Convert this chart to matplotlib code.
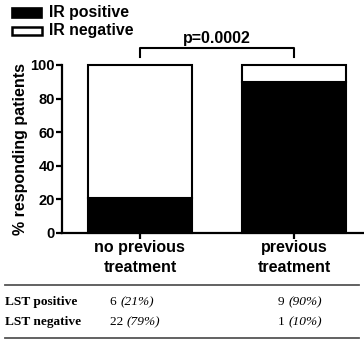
import matplotlib.pyplot as plt

groups = ['no previous\ntreatment', 'previous\ntreatment']
ir_positive = [21, 90]
ir_negative = [79, 10]
p_label = 'p=0.0002'
table_rows = ['LST positive', 'LST negative']
table_counts = [[6, 9], [22, 1]]
table_pcts = [['21%', '90%'], ['79%', '10%']]

W, H = 364, 340
fig = plt.figure(figsize=(W / 100, H / 100), dpi=100)
plt.rcParams['font.family'] = 'Liberation Sans'

def fx(px):
    return px / W

def fy(py):
    return 1 - py / H

ax = fig.add_axes([fx(62), fy(233), fx(364) - fx(62), fy(65) - fy(233)])
x = [0, 1]
ax.bar(x, ir_positive, width=0.67, color='black', edgecolor='black', linewidth=1.5, clip_on=False)
ax.bar(x, ir_negative, bottom=ir_positive, width=0.67, color='white', edgecolor='black', linewidth=1.5, clip_on=False)
ax.set_xlim(-0.506, 1.455)
ax.set_ylim(0, 100)
ax.set_yticks([0, 20, 40, 60, 80, 100])
ax.set_xticks(x)
ax.set_xticklabels(groups, fontsize=11.5, fontweight='bold', linespacing=1.45)
for lab in ax.get_yticklabels():
    lab.set_fontweight('bold')
    lab.set_fontsize(10.5)
ax.set_ylabel('% responding patients', fontsize=11.5, fontweight='bold', labelpad=1.5)
for s in ['top', 'right']:
    ax.spines[s].set_visible(False)
for s in ['left', 'bottom']:
    ax.spines[s].set_linewidth(1.6)
ax.tick_params(width=1.6, length=4, pad=1)

# significance bracket
ax.plot([0, 0, 1, 1], [104.5, 110, 110, 104.5], color='black', lw=1.5, clip_on=False)
ax.text(0.5, 111.5, p_label, ha='center', va='bottom', fontsize=11.5, fontweight='bold')

# legend
fig.patches.append(plt.Rectangle((fx(12), fy(18)), fx(30), fy(8) - fy(18), facecolor='black',
                                 edgecolor='black', lw=1.2, transform=fig.transFigure))
fig.patches.append(plt.Rectangle((fx(12), fy(35)), fx(30), fy(27) - fy(35), facecolor='white',
                                 edgecolor='black', lw=1.8, transform=fig.transFigure))
fig.text(fx(49), fy(13), 'IR positive', fontsize=11.4, fontweight='bold', va='center')
fig.text(fx(49), fy(31), 'IR negative', fontsize=11.4, fontweight='bold', va='center')

# table
fig.add_artist(plt.Line2D([fx(5), fx(359)], [fy(285), fy(285)], color='#555555', lw=1.3))
fig.add_artist(plt.Line2D([fx(5), fx(359)], [fy(338), fy(338)], color='#555555', lw=1.3))
row_y = [302, 322]
tkw = dict(family='Liberation Serif', fontsize=9.6)
for i, name in enumerate(table_rows):
    y = fy(row_y[i])
    fig.text(fx(5), y, name, fontweight='bold', va='center', **tkw)
    t = fig.text(fx(110), y, '%d ' % table_counts[i][0], va='center', **tkw)
    fig.add_artist(plt.Annotation('(%s)' % table_pcts[i][0], xy=(1, 0.5), xycoords=t,
                                  va='center', style='italic', **tkw))
    p = fig.text(fx(322), y, '(%s)' % table_pcts[i][1], va='center', ha='right', style='italic', **tkw)
    fig.add_artist(plt.Annotation('%d ' % table_counts[i][1], xy=(0, 0.5), xycoords=p,
                                  va='center', ha='right', **tkw))

fig.savefig('out.png', dpi=100)
